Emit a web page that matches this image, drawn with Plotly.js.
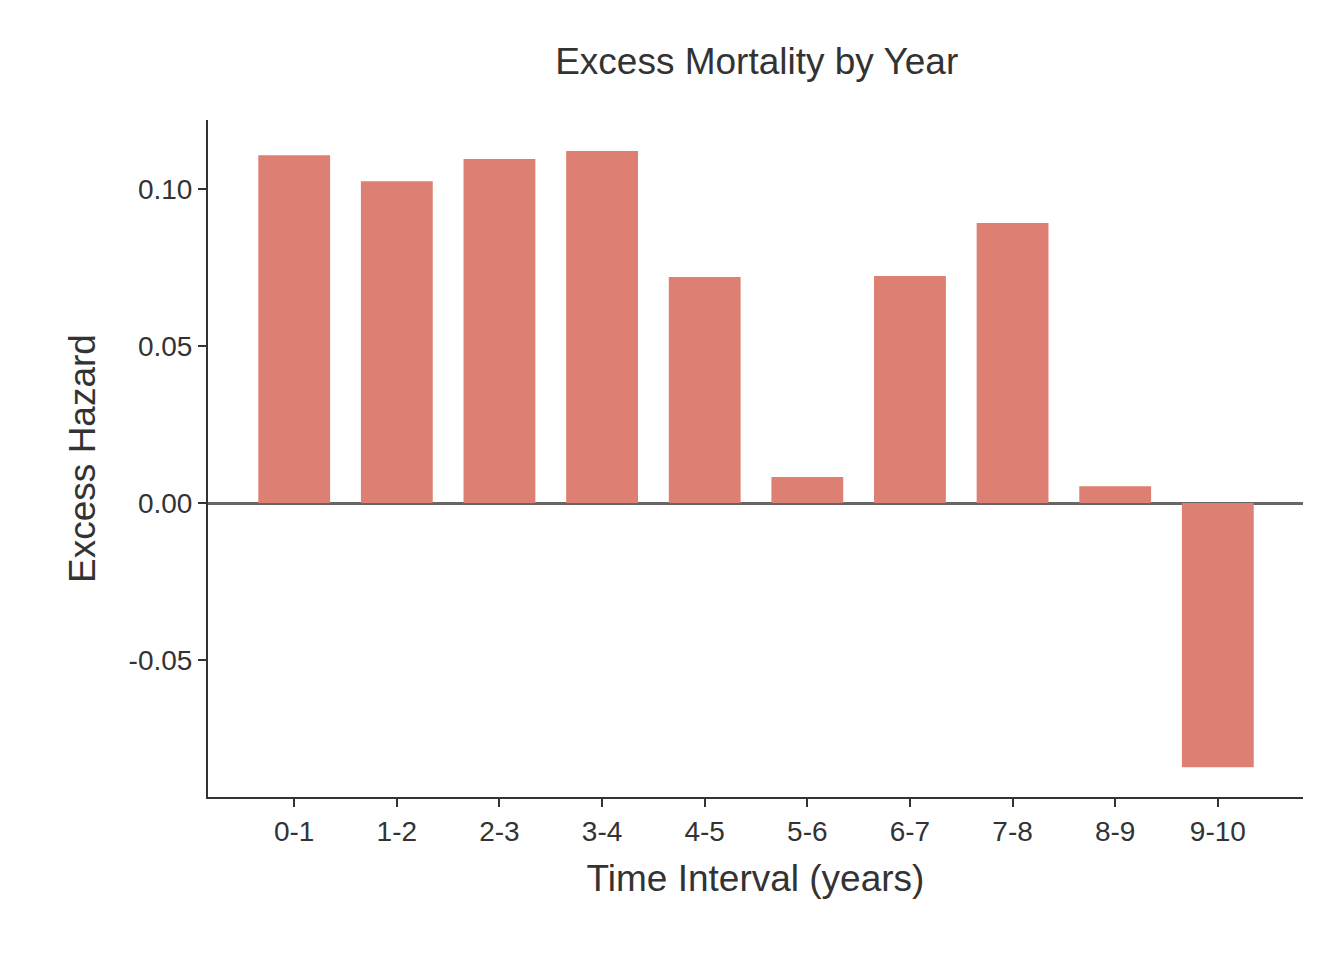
<!DOCTYPE html>
<html><head><script src="https://cdn.plot.ly/plotly-3.0.1.min.js"></script>
<style>body{margin:0;background:#fff}</style></head><body>
<div id="c" style="width:1344px;height:960px"></div>
<script>
const intervals = ["0-1","1-2","2-3","3-4","4-5","5-6","6-7","7-8","8-9","9-10"];
const excessHazard = [0.1108,0.1025,0.1096,0.1121,0.0720,0.0083,0.0723,0.0892,0.0054,-0.0841];
const yTicks = [-0.05,0,0.05,0.10];
const yTickText = ["-0.05","0.00","0.05","0.10"];
Plotly.newPlot('c',[{type:'bar',x:intervals,y:excessHazard,width:0.7,marker:{color:'#dd8073'},hoverinfo:'x+y'}],{
  width:1344,height:960,paper_bgcolor:'#fff',plot_bgcolor:'#fff',
  margin:{l:208,r:41,t:120,b:163},
  font:{family:'Liberation Sans, Arial, sans-serif',color:'#333',size:28},
  title:{text:'Excess Mortality by Year',x:0.563,xanchor:'center',y:0.936,yanchor:'middle',font:{size:37,color:'#333'}},
  xaxis:{range:[-0.84,9.83],showline:true,linecolor:'#333',linewidth:2,ticks:'outside',ticklen:8,tickwidth:2,tickcolor:'#333',
    tickfont:{size:28,color:'#333'},title:{text:'Time Interval (years)',font:{size:37,color:'#333'},standoff:20},showgrid:false,zeroline:false},
  yaxis:{range:[-0.0936,0.122],showline:true,linecolor:'#333',linewidth:2,ticks:'outside',ticklen:8,tickwidth:2,tickcolor:'#333',
    tickvals:yTicks,ticktext:yTickText,tickfont:{size:28,color:'#333'},showgrid:false,
    zeroline:true,zerolinecolor:'#666',zerolinewidth:3,
    title:{text:'Excess Hazard',font:{size:37,color:'#333'},standoff:22}},
  showlegend:false,bargap:0.3
},{displayModeBar:false});
</script></body></html>
